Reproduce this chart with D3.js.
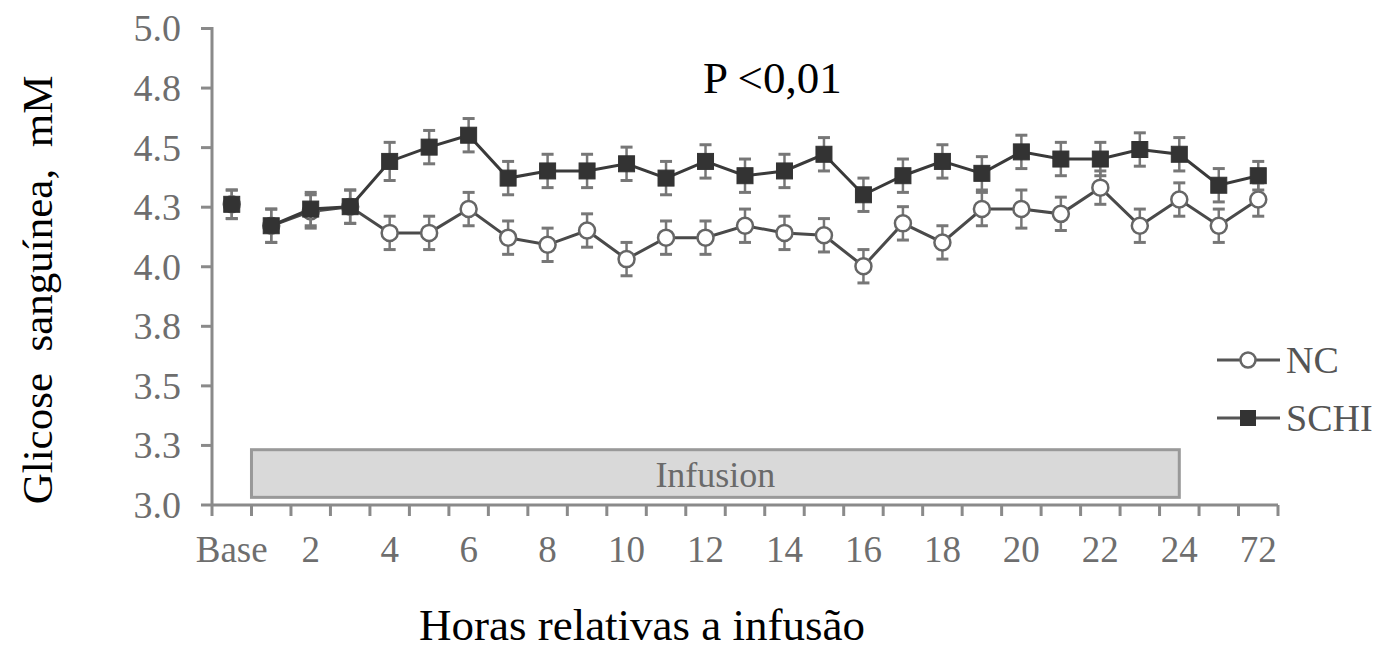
<!DOCTYPE html>
<html><head><meta charset="utf-8">
<script src="https://cdn.jsdelivr.net/npm/d3@7"></script>
<style>body{margin:0;background:#fff} svg text{font-family:"Liberation Serif","Times New Roman","DejaVu Serif",serif !important}</style>
</head><body>
<svg id="c" width="1380" height="652" font-family="Liberation Serif, DejaVu Serif, serif"></svg>
<script>
const categories = ["Base","1","2","3","4","5","6","7","8","9","10","11","12","13","14","15","16","17","18","19","20","21","22","23","24","48","72"];
const xTickLabels = ["Base","","2","","4","","6","","8","","10","","12","","14","","16","","18","","20","","22","","24","","72"];
const ncValues   = [4.26,4.17,4.23,4.25,4.14,4.14,4.24,4.12,4.09,4.15,4.03,4.12,4.12,4.17,4.14,4.13,4.00,4.18,4.10,4.24,4.24,4.22,4.33,4.17,4.28,4.17,4.28];
const ncErr      = [0.06,0.07,0.07,0.07,0.07,0.07,0.07,0.07,0.07,0.07,0.07,0.07,0.07,0.07,0.07,0.07,0.07,0.07,0.07,0.07,0.08,0.07,0.07,0.07,0.07,0.07,0.07];
const schiValues = [4.26,4.17,4.24,4.25,4.44,4.50,4.55,4.37,4.40,4.40,4.43,4.37,4.44,4.38,4.40,4.47,4.30,4.38,4.44,4.39,4.48,4.45,4.45,4.49,4.47,4.34,4.38];
const schiErr    = [0.06,0.07,0.07,0.07,0.08,0.07,0.07,0.07,0.07,0.07,0.07,0.07,0.07,0.07,0.07,0.07,0.07,0.07,0.07,0.07,0.07,0.07,0.07,0.07,0.07,0.07,0.06];
const yTicks = [3.0,3.25,3.5,3.75,4.0,4.25,4.5,4.75,5.0];
const yTickLabels = ["3.0","3.3","3.5","3.8","4.0","4.3","4.5","4.8","5.0"];
const infusion = {from:"1", to:"24", low:3.03, high:3.23, label:"Infusion"};
const seriesNames = ["NC","SCHI"];

const FONT = '"Liberation Serif","Times New Roman","DejaVu Serif",serif';
const svg = d3.select("#c");
const x = d3.scaleBand().domain(categories).range([212,1278]).paddingInner(0).paddingOuter(0);
const y = d3.scaleLinear().domain([3.0,5.0]).range([504.5,28]);
const cx = c => x(c) + x.bandwidth()/2;
const axisColor = "#8a8a8a";

// infusion box
svg.append("rect")
  .attr("x", x(infusion.from)).attr("y", y(infusion.high))
  .attr("width", cx(infusion.to) - x(infusion.from))
  .attr("height", y(infusion.low) - y(infusion.high))
  .attr("fill","#d9d9d9").attr("stroke","#999").attr("stroke-width",3);
svg.append("text")
  .attr("x", (x(infusion.from)+cx(infusion.to))/2).attr("y", 487)
  .attr("text-anchor","middle").attr("font-size",36).attr("fill","#6a6a6a")
  .attr("font-family",FONT).text(infusion.label);

// y axis
const yAxis = d3.axisLeft(y).tickValues(yTicks).tickFormat((d,i)=>yTickLabels[i]).tickSize(11).tickPadding(20);
const gy = svg.append("g").attr("transform","translate(212,0)").call(yAxis).attr("font-family",FONT);
gy.select(".domain").attr("stroke",axisColor).attr("stroke-width",3).attr("d","M0,27V506");
gy.selectAll(".tick line").attr("stroke",axisColor).attr("stroke-width",3);
gy.selectAll(".tick text").attr("font-size",38).attr("fill","#6e6e6e")
  .attr("font-family",FONT).attr("dy","0.34em");

// x axis
const gx = svg.append("g").attr("font-family",FONT);
gx.append("line").attr("x1",x.range()[0]).attr("x2",x.range()[1]).attr("y1",505).attr("y2",505)
  .attr("stroke",axisColor).attr("stroke-width",3);
const bounds = categories.map(c=>x(c)).concat([x.range()[1]]);
gx.selectAll("line.tk").data(bounds).join("line").attr("class","tk")
  .attr("x1",d=>d).attr("x2",d=>d).attr("y1",505).attr("y2",516)
  .attr("stroke",axisColor).attr("stroke-width",3);
gx.selectAll("text").data(categories).join("text")
  .attr("x",c=>cx(c)).attr("y",562).attr("text-anchor","middle")
  .attr("font-size",37).attr("fill","#6e6e6e").attr("font-family",FONT)
  .text((c,i)=>xTickLabels[i]);

// series
function drawSeries(vals, errs, kind){
  const g = svg.append("g");
  const pts = categories.map((c,i)=>({c, v:vals[i], e:errs[i], i}));
  const line = d3.line().x(d=>cx(d.c)).y(d=>y(d.v));
  g.append("path").attr("d", line(pts.slice(1))).attr("fill","none")
    .attr("stroke", kind==="sq" ? "#3a3a3a" : "#4a4a4a").attr("stroke-width",3);
  const eb = g.selectAll("g.eb").data(pts).join("g").attr("class","eb");
  eb.append("line").attr("x1",d=>cx(d.c)).attr("x2",d=>cx(d.c))
    .attr("y1",d=>y(d.v+d.e)).attr("y2",d=>y(d.v-d.e)).attr("stroke","#777").attr("stroke-width",2.5);
  eb.append("line").attr("x1",d=>cx(d.c)-6).attr("x2",d=>cx(d.c)+6)
    .attr("y1",d=>y(d.v+d.e)).attr("y2",d=>y(d.v+d.e)).attr("stroke","#777").attr("stroke-width",3);
  eb.append("line").attr("x1",d=>cx(d.c)-6).attr("x2",d=>cx(d.c)+6)
    .attr("y1",d=>y(d.v-d.e)).attr("y2",d=>y(d.v-d.e)).attr("stroke","#777").attr("stroke-width",3);
  if(kind==="sq"){
    g.selectAll("rect").data(pts).join("rect")
      .attr("x",d=>cx(d.c)-8).attr("y",d=>y(d.v)-8).attr("width",16).attr("height",16)
      .attr("fill","#333").attr("stroke","#333").attr("stroke-width",1);
  } else {
    g.selectAll("circle").data(pts).join("circle")
      .attr("cx",d=>cx(d.c)).attr("cy",d=>y(d.v)).attr("r",8)
      .attr("fill","#fff").attr("stroke","#666").attr("stroke-width",2.5);
  }
}
drawSeries(ncValues, ncErr, "ci");
drawSeries(schiValues, schiErr, "sq");

// legend
const leg = svg.append("g").attr("font-family",FONT);
[[360,"ci"],[418,"sq"]].forEach(([ly,k],i)=>{
  leg.append("line").attr("x1",1217).attr("x2",1280).attr("y1",ly).attr("y2",ly).attr("stroke","#555").attr("stroke-width",3);
  if(k==="ci") leg.append("circle").attr("cx",1248).attr("cy",ly).attr("r",7.5).attr("fill","#fff").attr("stroke","#666").attr("stroke-width",2.5);
  else leg.append("rect").attr("x",1240).attr("y",ly-8).attr("width",16).attr("height",16).attr("fill","#333");
  leg.append("text").attr("x",1286).attr("y",ly+13).attr("font-size",38).attr("fill","#555").attr("font-family",FONT).text(seriesNames[i]);
});

// annotation and titles
svg.append("text").attr("x",703).attr("y",93).attr("font-size",45).attr("fill","#000").attr("font-family",FONT).text("P <0,01");
svg.append("text").attr("x",642).attr("y",640).attr("text-anchor","middle").attr("font-size",45).attr("fill","#000").attr("font-family",FONT).text("Horas relativas a infusão");
svg.append("text").attr("transform","translate(52,290) rotate(-90)").attr("text-anchor","middle")
  .attr("font-size",43).attr("fill","#000").attr("font-family",FONT).style("white-space","pre").text("Glicose  sanguínea,  mM");
</script>
</body></html>
